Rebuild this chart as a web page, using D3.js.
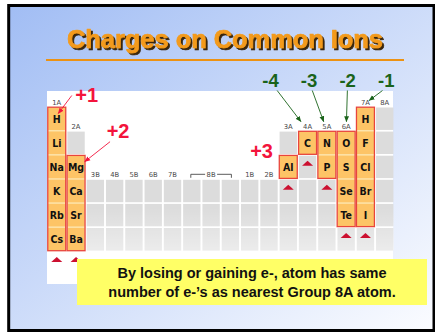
<!DOCTYPE html>
<html>
<head>
<meta charset="utf-8">
<script src="https://cdn.jsdelivr.net/npm/d3@7"></script>
<style>
  html, body { margin: 0; padding: 0; background: #fff; }
  svg { display: block; }
</style>
</head>
<body>
<svg id="chart" width="435" height="334"></svg>
<script>
// Column headers of the periodic table, left to right
const groupLabels = ["1A", "2A", "3B", "4B", "5B", "6B", "7B", "8B", "8B", "8B", "1B", "2B", "3A", "4A", "5A", "6A", "7A", "8A"];
// First period that has a cell in each column
const firstPeriod = [1, 2, 4, 4, 4, 4, 4, 4, 4, 4, 4, 4, 2, 2, 2, 2, 1, 1];
const periods = [1, 2, 3, 4, 5, 6, 7];
const lastPeriod = 6;

// Highlighted ion groups
const ionColumns = ["1A", "2A", "3A", "4A", "5A", "6A", "7A"];
const ionStart = [1, 3, 3, 2, 2, 2, 1];
const ionSymbols = [
  ["H", "Li", "Na", "K", "Rb", "Cs"],
  ["Mg", "Ca", "Sr", "Ba"],
  ["Al"],
  ["C"],
  ["N", "P"],
  ["O", "S", "Se", "Te"],
  ["H", "F", "Cl", "Br", "I"]
];
const charges = ["+1", "+2", "+3", "-4", "-3", "-2", "-1"];

const title = "Charges on Common Ions";
const noteLines = [
  "By losing or gaining e-, atom has same",
  "number of e-\u2019s as nearest Group 8A atom."
];

const color = {
  frame: "#000",
  bgFrom: "#a1bdf4",
  bgTo: "#fbfcff",
  title: "#f39a1b",
  titleShadow: "#3a2810",
  rule: "#ec9213",
  cell: "#dcdcdc",
  ion: "#fdc466",
  ionLine: "#fde6b0",
  ionBorder: "#e8453c",
  symbol: "#111",
  header: "#4a4a4a",
  plus: "#f3143c",
  minus: "#1a631a",
  marker: "#cc1030",
  note: "#ffff66"
};

const svg = d3.select("#chart");
const defs = svg.append("defs");

// Slide background
const bg = defs.append("linearGradient")
  .attr("id", "bg")
  .attr("x1", 0).attr("y1", 0).attr("x2", 1).attr("y2", 1);
bg.append("stop").attr("offset", "0%").attr("stop-color", color.bgFrom);
bg.append("stop").attr("offset", "100%").attr("stop-color", color.bgTo);

svg.append("rect")
  .attr("x", 8.7).attr("y", 5.5)
  .attr("width", 425.3).attr("height", 325)
  .attr("fill", "url(#bg)")
  .attr("stroke", color.frame)
  .attr("stroke-width", 3);

// Title shadow as a filter so the title stays one text
const shadow = defs.append("filter")
  .attr("id", "titleShadow")
  .attr("x", "-5%").attr("y", "-20%")
  .attr("width", "110%").attr("height", "140%");
shadow.append("feOffset").attr("in", "SourceAlpha").attr("dx", 1.6).attr("dy", 1.6).attr("result", "off");
shadow.append("feFlood").attr("flood-color", color.titleShadow).attr("result", "col");
shadow.append("feComposite").attr("in", "col").attr("in2", "off").attr("operator", "in").attr("result", "sh");
const merge = shadow.append("feMerge");
merge.append("feMergeNode").attr("in", "sh");
merge.append("feMergeNode").attr("in", "SourceGraphic");

svg.append("text")
  .attr("x", 225).attr("y", 48)
  .attr("text-anchor", "middle")
  .attr("textLength", 316)
  .attr("lengthAdjust", "spacingAndGlyphs")
  .style("font-family", "'Comic Sans MS', 'Liberation Sans', sans-serif")
  .style("font-weight", "bold")
  .style("font-size", "25px")
  .attr("fill", color.title)
  .attr("stroke", color.title)
  .attr("stroke-width", 0.7)
  .attr("stroke-linejoin", "round")
  .attr("filter", "url(#titleShadow)")
  .text(title);

svg.append("line")
  .attr("x1", 46).attr("x2", 404)
  .attr("y1", 60).attr("y2", 60)
  .attr("stroke", color.rule)
  .attr("stroke-width", 2.2);

// White panel behind the table
svg.append("rect")
  .attr("x", 47).attr("y", 91)
  .attr("width", 346).attr("height", 193)
  .attr("fill", "#fff");

// Scales
const x = d3.scaleBand()
  .domain(d3.range(groupLabels.length))
  .range([47.5, 394])
  .paddingInner(0.1)
  .paddingOuter(0.03);

const y = d3.scaleBand()
  .domain(periods)
  .range([107.5, 107.5 + 24.1 * 6.93])
  .paddingInner(0.07);

const bw = x.bandwidth();
const bh = y.bandwidth();
const cx = (c) => x(c) + bw / 2;

const table = svg.append("g").attr("class", "table");

// Grey cells
const cells = [];
groupLabels.forEach((g, c) => {
  d3.range(firstPeriod[c], lastPeriod + 1).forEach((p) => cells.push({ c, p }));
});

table.selectAll("rect.cell")
  .data(cells)
  .join("rect")
  .attr("class", "cell")
  .attr("x", (d) => x(d.c))
  .attr("y", (d) => y(d.p))
  .attr("width", bw)
  .attr("height", bh)
  .attr("fill", color.cell);

// Faded lower rows of the scanned table
const fade = defs.append("linearGradient")
  .attr("id", "fade")
  .attr("x1", 0).attr("y1", 0).attr("x2", 0).attr("y2", 1);
fade.append("stop").attr("offset", "0%").attr("stop-color", "#fff").attr("stop-opacity", 0);
fade.append("stop").attr("offset", "100%").attr("stop-color", "#fff").attr("stop-opacity", 0.45);

table.append("rect")
  .attr("x", x(2) - 1)
  .attr("y", y(5) + 4)
  .attr("width", 394 - x(2) + 1)
  .attr("height", y(6) + bh - y(5) - 4)
  .attr("fill", "url(#fade)");

// Column headers
const headerY = (c) => y(firstPeriod[c]) - 3;
table.selectAll("text.header")
  .data(groupLabels.map((g, c) => ({ g, c })).filter((d) => d.g !== "8B"))
  .join("text")
  .attr("class", "header")
  .attr("x", (d) => cx(d.c))
  .attr("y", (d) => headerY(d.c))
  .attr("text-anchor", "middle")
  .style("font-family", "'DejaVu Sans', sans-serif")
  .style("font-size", "6.8px")
  .attr("fill", color.header)
  .text((d) => d.g);

// 8B spans three columns with a bracket
const b8 = groupLabels.indexOf("8B");
const b8y = headerY(b8);
table.append("text")
  .attr("x", cx(b8 + 1))
  .attr("y", b8y)
  .attr("text-anchor", "middle")
  .style("font-family", "'DejaVu Sans', sans-serif")
  .style("font-size", "6.8px")
  .attr("fill", color.header)
  .text("8B");
table.append("path")
  .attr("d",
    `M${cx(b8) - 1},${b8y + 1}v-3.5h${cx(b8 + 1) - 6 - cx(b8) + 1}` +
    `M${cx(b8 + 1) + 6},${b8y - 2.5}H${cx(b8 + 2) + 1}v3.5`)
  .attr("fill", "none")
  .attr("stroke", color.header)
  .attr("stroke-width", 0.9);

// Highlighted ion groups
const ions = ionColumns.map((g, i) => ({
  c: groupLabels.indexOf(g),
  start: ionStart[i],
  symbols: ionSymbols[i],
  charge: charges[i]
}));

const ionG = table.selectAll("g.ion")
  .data(ions)
  .join("g")
  .attr("class", "ion");

ionG.append("rect")
  .attr("x", (d) => x(d.c))
  .attr("y", (d) => y(d.start))
  .attr("width", bw)
  .attr("height", (d) => y(d.start + d.symbols.length - 1) + bh - y(d.start))
  .attr("fill", color.ion);

ionG.selectAll("line.sep")
  .data((d) => d.symbols.slice(1).map((s, k) => ({ c: d.c, p: d.start + k + 1 })))
  .join("line")
  .attr("class", "sep")
  .attr("x1", (d) => x(d.c))
  .attr("x2", (d) => x(d.c) + bw)
  .attr("y1", (d) => y(d.p) - y.step() * 0.035)
  .attr("y2", (d) => y(d.p) - y.step() * 0.035)
  .attr("stroke", color.ionLine)
  .attr("stroke-width", 1.4);

ionG.append("rect")
  .attr("x", (d) => x(d.c) - 0.3)
  .attr("y", (d) => y(d.start) - 0.3)
  .attr("width", bw + 0.6)
  .attr("height", (d) => y(d.start + d.symbols.length - 1) + bh - y(d.start) + 0.6)
  .attr("fill", "none")
  .attr("stroke", color.ionBorder)
  .attr("stroke-width", 1.3);

ionG.selectAll("text.sym")
  .data((d) => d.symbols.map((s, k) => ({ s, c: d.c, p: d.start + k })))
  .join("text")
  .attr("class", "sym")
  .attr("x", (d) => cx(d.c))
  .attr("y", (d) => y(d.p) + bh / 2 + 3.8)
  .attr("text-anchor", "middle")
  .style("font-family", "'DejaVu Sans Condensed', 'DejaVu Sans', sans-serif")
  .style("font-weight", "bold")
  .style("font-size", "10.5px")
  .attr("fill", color.symbol)
  .text((d) => d.s);

// Red markers under each highlighted group
ionG.append("path")
  .attr("transform", (d) => `translate(${cx(d.c)},${y(d.start + d.symbols.length) + 5})`)
  .attr("d", "M-5.5,5L0,0L5.5,5Z")
  .attr("fill", color.marker);

// Arrow heads
const addMarker = (id, fill) =>
  defs.append("marker")
    .attr("id", id)
    .attr("viewBox", "0 0 10 10")
    .attr("refX", 9).attr("refY", 5)
    .attr("markerUnits", "userSpaceOnUse")
    .attr("markerWidth", 6).attr("markerHeight", 6)
    .attr("orient", "auto")
    .append("path")
    .attr("d", "M0,1L10,5L0,9Z")
    .attr("fill", fill);
addMarker("arrowRed", color.plus);
addMarker("arrowGreen", color.minus);

const chargeFont = (sel, size) =>
  sel.style("font-family", "'Liberation Sans', Arial, sans-serif")
    .style("font-weight", "bold")
    .style("font-size", size)
    .attr("text-anchor", "middle");

const notes = svg.append("g").attr("class", "charges");

// Positive charges (1A, 2A, 3A)
const plus = ions.filter((d) => d.charge[0] === "+");
const plusPos = [
  { x: cx(plus[0].c) + 30, y: y(1) - 6, from: [-15, -6], tip: [cx(plus[0].c) + 1.5, y(1) + 6] },
  { x: cx(plus[1].c) + 42, y: y(3) - 18, from: [-8, 4], tip: [x(plus[1].c) + bw, y(3) + 6] },
  { x: x(plus[2].c) - 18, y: y(3) + 2.5, from: null, tip: null }
];
plus.forEach((d, i) => {
  const p = plusPos[i];
  notes.append("text")
    .attr("x", p.x).attr("y", p.y)
    .attr("fill", color.plus)
    .call(chargeFont, "20px")
    .text(d.charge);
  if (p.tip) {
    notes.append("line")
      .attr("x1", p.x + p.from[0])
      .attr("y1", p.y + p.from[1])
      .attr("x2", p.tip[0]).attr("y2", p.tip[1])
      .attr("stroke", color.plus)
      .attr("stroke-width", 0.9)
      .attr("marker-end", "url(#arrowRed)");
  }
});

// Negative charges (4A to 7A), spread out above their columns
const minus = ions.filter((d) => d.charge[0] === "-");
const anchorC = cx(groupLabels.indexOf("6A"));
minus.forEach((d) => {
  const colC = cx(d.c);
  const lx = anchorC + 2 * (colC - anchorC) + 1.5;
  notes.append("text")
    .attr("x", lx).attr("y", y(1) - 21)
    .attr("fill", color.minus)
    .call(chargeFont, "18.5px")
    .text(d.charge);
  notes.append("line")
    .attr("x1", lx + (colC - lx) * 0.18)
    .attr("y1", y(1) - 17)
    .attr("x2", colC + (lx - colC) * 0.18)
    .attr("y2", headerY(d.c) - (d.start === 1 ? 4 : 7))
    .attr("stroke", color.minus)
    .attr("stroke-width", 0.9)
    .attr("marker-end", "url(#arrowGreen)");
});

// Yellow note box
svg.append("rect")
  .attr("x", 77).attr("y", 259)
  .attr("width", 350).attr("height", 46)
  .attr("fill", color.note);

svg.append("g")
  .selectAll("text")
  .data(noteLines)
  .join("text")
  .attr("x", 252)
  .attr("y", (d, i) => 278 + i * 19)
  .attr("text-anchor", "middle")
  .style("font-family", "'Liberation Sans', Arial, sans-serif")
  .style("font-weight", "bold")
  .style("font-size", "14.5px")
  .attr("fill", "#111")
  .text((d) => d);
</script>
</body>
</html>
